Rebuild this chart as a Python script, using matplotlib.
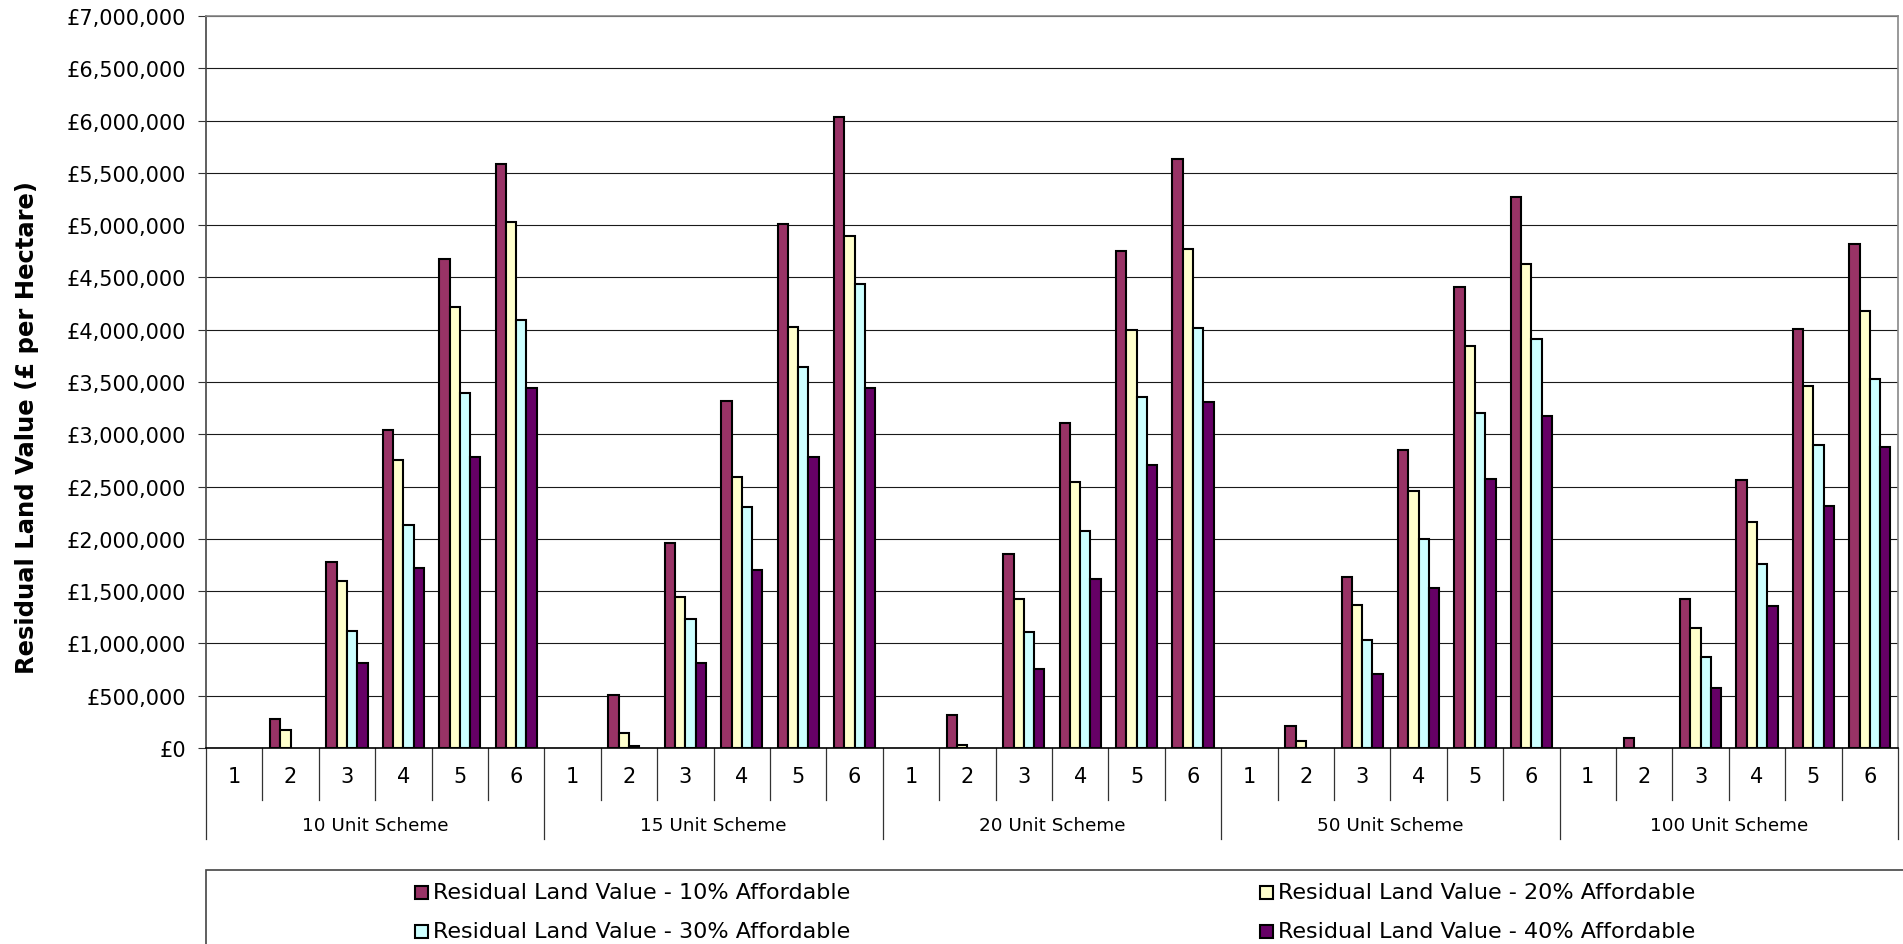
import matplotlib
matplotlib.use("Agg")
import matplotlib.pyplot as plt
from matplotlib import transforms
from matplotlib.patches import Rectangle
from matplotlib.ticker import FuncFormatter, MultipleLocator

# ---- data -------------------------------------------------------------
schemes = ["10 Unit Scheme", "15 Unit Scheme", "20 Unit Scheme",
           "50 Unit Scheme", "100 Unit Scheme"]
sites = ["1", "2", "3", "4", "5", "6"]

series_labels = [
    "Residual Land Value - 10% Affordable",
    "Residual Land Value - 20% Affordable",
    "Residual Land Value - 30% Affordable",
    "Residual Land Value - 40% Affordable",
]
series_colors = ["#993366", "#FFFFCC", "#CCFFFF", "#660066"]

# residual land value (£ per hectare), ordered scheme by scheme, sites 1-6
rlv_10 = [0, 280000, 1780000, 3040000, 4675000, 5580000,
          0, 510000, 1956000, 3320000, 5010000, 6036000,
          0, 311000, 1854000, 3106000, 4750000, 5633000,
          0, 213000, 1637000, 2847000, 4404000, 5271000,
          0, 93000, 1423000, 2564000, 4010000, 4817000]
rlv_20 = [0, 175000, 1595000, 2754000, 4214000, 5030000,
          0, 144000, 1446000, 2596000, 4024000, 4900000,
          0, 32000, 1428000, 2545000, 4001000, 4775000,
          0, 65000, 1368000, 2462000, 3843000, 4631000,
          0, 0, 1150000, 2160000, 3459000, 4177000]
rlv_30 = [0, 0, 1122000, 2137000, 3398000, 4089000,
          0, 18000, 1238000, 2309000, 3639000, 4441000,
          0, 0, 1108000, 2077000, 3352000, 4019000,
          0, 0, 1034000, 2003000, 3208000, 3913000,
          0, 0, 867000, 1757000, 2893000, 3528000]
rlv_40 = [0, 0, 811000, 1720000, 2786000, 3445000,
          0, 0, 816000, 1706000, 2786000, 3445000,
          0, 0, 760000, 1618000, 2707000, 3310000,
          0, 0, 705000, 1530000, 2568000, 3171000,
          0, 0, 575000, 1354000, 2318000, 2879000]
series_values = [rlv_10, rlv_20, rlv_30, rlv_40]

y_max = 7000000
y_step = 500000

# ---- figure -----------------------------------------------------------
W, H = 1903, 945
fig = plt.figure(figsize=(W / 100, H / 100), dpi=100)
fig.patch.set_facecolor("white")

plot_left, plot_right, plot_top, plot_bottom = 206, 1898, 17, 749
ax = fig.add_axes([plot_left / W, (H - plot_bottom) / H,
                   (plot_right - plot_left) / W, (plot_bottom - plot_top) / H])

n_cat = len(schemes) * len(sites)
n_series = len(series_values)
bar_w = 1.0 / (n_series + 1.5)

for i, (vals, col, lab) in enumerate(zip(series_values, series_colors, series_labels)):
    offs = (i - (n_series - 1) / 2) * bar_w
    # sites with no positive residual value get no bar
    pos = [(k + offs, v) for k, v in enumerate(vals) if v > 0]
    ax.bar([p[0] for p in pos], [p[1] for p in pos], width=bar_w, color=col,
           edgecolor="black", linewidth=1.5, label=lab, zorder=3)

ax.set_xlim(-0.5, n_cat - 0.5)
ax.set_ylim(0, y_max)
ax.yaxis.set_major_locator(MultipleLocator(y_step))
ax.yaxis.set_major_formatter(FuncFormatter(lambda v, p: f"£{int(round(v)):,}"))
ax.grid(axis="y", color="#1a1a1a", linewidth=0.8, zorder=0)
ax.set_axisbelow(True)
ax.tick_params(axis="y", direction="out", length=5.5, width=0.8,
               color="#333333", pad=9, labelsize=15)
ax.tick_params(axis="x", bottom=False, labelbottom=False)

ax.spines["top"].set_color("#888888")
ax.spines["right"].set_color("#888888")
ax.spines["left"].set_color("#444444")
ax.spines["bottom"].set_color("#000000")
for s in ax.spines.values():
    s.set_linewidth(1.2)

# ---- two-level category axis ------------------------------------------
pix = transforms.blended_transform_factory(ax.transData, transforms.IdentityTransform())
y0 = H - plot_bottom
y_sep = H - 801
y_grp = H - 840
y_site = H - 777
y_scheme = H - 826

for k in range(n_cat + 1):
    bx = k - 0.5
    bottom = y_grp if k % len(sites) == 0 else y_sep
    ax.plot([bx, bx], [y0, bottom], color="#333333", linewidth=0.9,
            transform=pix, clip_on=False)

for k in range(n_cat):
    ax.text(k, y_site, sites[k % len(sites)], transform=pix, ha="center",
            va="center", fontsize=15)

for g, name in enumerate(schemes):
    cx = g * len(sites) + (len(sites) - 1) / 2
    ax.text(cx, y_scheme, name, transform=pix, ha="center", va="center",
            fontsize=13.2)

fig.text(27 / W, (H - 428) / H, "Residual Land Value (£ per Hectare)",
         rotation=90, ha="center", va="center", fontsize=17.5, fontweight="bold")

# ---- legend -----------------------------------------------------------
ident = transforms.IdentityTransform()
fig.add_artist(Rectangle((206, -10), W - 206 + 20, (H - 871) + 10,
                         transform=ident, facecolor="white",
                         edgecolor="#444444", linewidth=1.2))
key_pos = [(421, H - 893), (1266, H - 893), (421, H - 932), (1266, H - 932)]
key = 13
for (kx, ky), col, lab in zip(key_pos, series_colors, series_labels):
    fig.add_artist(Rectangle((kx - key / 2, ky - key / 2), key, key,
                             transform=ident, facecolor=col,
                             edgecolor="black", linewidth=1.5))
    fig.text((kx + 12) / W, ky / H, lab, ha="left", va="center", fontsize=16)

fig.savefig("out.png", dpi=100, facecolor="white")
